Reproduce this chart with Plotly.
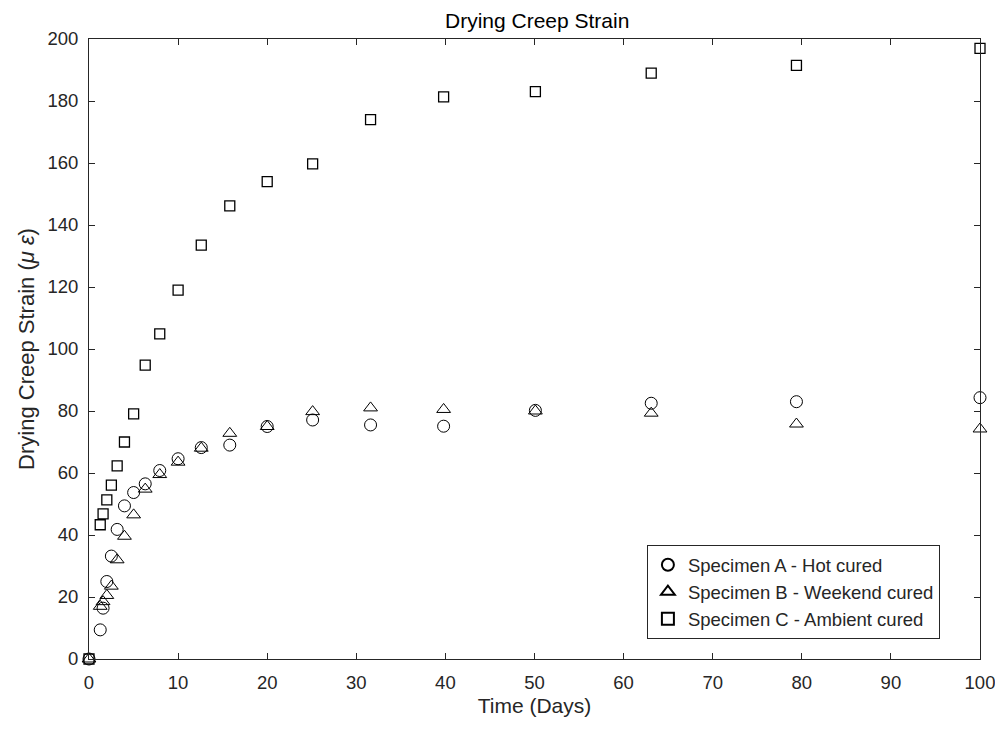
import plotly.graph_objects as go

# time in days
days = [0, 1.26, 1.58, 2.0, 2.51, 3.16, 3.98, 5.01, 6.31, 7.94, 10,
        12.6, 15.8, 20, 25.1, 31.6, 39.8, 50.1, 63.1, 79.4, 100]

# drying creep strain (micro-strain)
hot_cured = [0, 9.4, 16.4, 25, 33.2, 41.8, 49.4, 53.7, 56.5, 60.8, 64.6,
             68.2, 69, 75, 77.1, 75.5, 75.1, 80.2, 82.5, 83, 84.3]
weekend_cured = [0, 17, 18.5, 20.5, 23.5, 32, 39.6, 46.5, 54.8, 59.5, 63.5,
                 68, 72.8, 75, 79.8, 81, 80.5, 80, 79.3, 75.8, 74.2]
ambient_cured = [0, 43.3, 46.8, 51.3, 56.1, 62.3, 70, 79.1, 94.8, 104.9, 119,
                 133.5, 146.2, 154, 159.7, 174, 181.3, 183, 189, 191.5, 197]

x_ticks = list(range(0, 101, 10))
y_ticks = list(range(0, 201, 20))

FONT = 'Liberation Sans, Arial'
DARK = '#262626'

fig = go.Figure()

fig.add_trace(go.Scatter(
    x=days, y=hot_cured, mode='markers', name='Specimen A - Hot cured',
    marker=dict(symbol='circle-open', size=12, color='black', line=dict(width=1)),
    cliponaxis=False
))
fig.add_trace(go.Scatter(
    x=days, y=weekend_cured, mode='markers', name='Specimen B - Weekend cured',
    marker=dict(symbol='triangle-up-open', size=12, color='black', line=dict(width=1)),
    cliponaxis=False
))
fig.add_trace(go.Scatter(
    x=days, y=ambient_cured, mode='markers', name='Specimen C - Ambient cured',
    marker=dict(symbol='square-open', size=10, color='black', line=dict(width=1.3)),
    cliponaxis=False
))

axis_style = dict(
    showline=True, linecolor=DARK, linewidth=1, mirror='ticks',
    ticks='inside', ticklen=6, tickcolor=DARK, showgrid=False, zeroline=False,
    tickfont=dict(family=FONT, size=18.5, color=DARK), ticklabeloverflow='allow',
    automargin=False,
)

fig.update_xaxes(
    range=[0, 100], tickvals=x_ticks, ticklabelstandoff=7,
    title=dict(text='Time (Days)', font=dict(family=FONT, size=21, color=DARK), standoff=6),
    **axis_style
)
fig.update_yaxes(
    range=[0, 200], tickvals=y_ticks, ticklabelstandoff=6,
    title=dict(text='Drying Creep Strain (<i>μ ε</i>)', font=dict(family=FONT, size=22, color=DARK), standoff=6),
    **axis_style
)

# page body has an 8px margin, so the figure is offset to match
fig.update_layout(
    width=987, height=719,
    margin=dict(l=81, r=15, t=31, b=68),
    plot_bgcolor='white', paper_bgcolor='white',
    title=dict(text='Drying Creep Strain', xref='paper', x=0.503, xanchor='center',
               y=0.993, yanchor='top', pad=dict(t=0, b=0),
               font=dict(family=FONT, size=21, color='black')),
    legend=dict(
        x=0.955, y=0.032, xanchor='right', yanchor='bottom',
        bgcolor='white', bordercolor=DARK, borderwidth=1,
        font=dict(family=FONT, size=18.5, color=DARK),
        itemsizing='constant', tracegroupgap=0,
    ),
    showlegend=True,
)

fig.write_html("out.html")
